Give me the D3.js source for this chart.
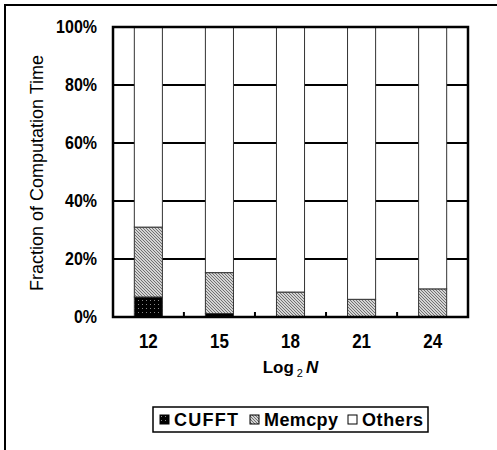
<!DOCTYPE html>
<html>
<head>
<meta charset="utf-8">
<script src="https://cdn.jsdelivr.net/npm/d3@7"></script>
<style>
    body { margin: 0; background: #fff; }
    svg { display: block; }
    text { font-family: "Liberation Sans", Arial, sans-serif; fill: #000; }
</style>
</head>
<body>
<svg id="chart"></svg>
<script>
// values (percent of computation time)
var categories = ["12", "15", "18", "21", "24"];
var cufft = [6.9, 1.2, 0.2, 0.1, 0.1];
var memcpy = [24.1, 14.1, 8.4, 6.0, 9.6];
var others = [69.0, 84.7, 91.4, 93.9, 90.3];
var seriesNames = ["CUFFT", "Memcpy", "Others"];
var yTicks = [0, 20, 40, 60, 80, 100];

var W = 497, H = 450;
var m = { left: 113, right: 29, top: 27, bottom: 133 };
var w = W - m.left - m.right;
var h = H - m.top - m.bottom;

var svg = d3.select("#chart")
    .attr("width", W)
    .attr("height", H);

// patterns for the stacked parts
var defs = svg.append("defs");
var dots = defs.append("pattern")
    .attr("id", "pat-cufft")
    .attr("patternUnits", "userSpaceOnUse")
    .attr("width", 4).attr("height", 4);
dots.append("rect").attr("width", 4).attr("height", 4).attr("fill", "#000");
dots.append("rect").attr("x", 1).attr("y", 1).attr("width", 1).attr("height", 1).attr("fill", "#888");

var hatch = defs.append("pattern")
    .attr("id", "pat-memcpy")
    .attr("patternUnits", "userSpaceOnUse")
    .attr("width", 3).attr("height", 3);
hatch.append("rect").attr("width", 3).attr("height", 3).attr("fill", "#fff");
hatch.append("path")
    .attr("d", "M-1,-1 L4,4 M-1,2 L1,4 M2,-1 L4,1")
    .attr("stroke", "#6a6a6a")
    .attr("stroke-width", 1.1);

var fills = ["url(#pat-cufft)", "url(#pat-memcpy)", "#fff"];

// outer frame (only top and left fall inside the picture)
svg.append("path")
    .attr("d", "M5," + (H + 5) + " V5 H" + (W + 5))
    .attr("fill", "none")
    .attr("stroke", "#000")
    .attr("stroke-width", 2);

var chart = svg.append("g")
    .attr("transform", "translate(" + m.left + "," + m.top + ")");

var x = d3.scaleBand().domain(categories).range([0, w]).paddingInner(0.605).paddingOuter(0.3);
var y = d3.scaleLinear().domain([0, 100]).range([h, 0]);

// gridlines
chart.append("g")
    .selectAll("line")
    .data(yTicks.slice(1, -1))
    .join("line")
    .attr("x1", 0).attr("x2", w)
    .attr("y1", function (d) { return y(d); })
    .attr("y2", function (d) { return y(d); })
    .attr("stroke", "#000")
    .attr("stroke-width", 2);

// stacked bars
var rows = categories.map(function (c, i) {
    return { cat: c, CUFFT: cufft[i], Memcpy: memcpy[i], Others: others[i] };
});
var stack = d3.stack().keys(seriesNames)(rows);

chart.append("g")
    .selectAll("g")
    .data(stack)
    .join("g")
    .attr("fill", function (d, i) { return fills[i]; })
    .selectAll("rect")
    .data(function (d) { return d; })
    .join("rect")
    .attr("x", function (d) { return x(d.data.cat); })
    .attr("width", x.bandwidth())
    .attr("y", function (d) { return y(d[1]); })
    .attr("height", function (d) { return y(d[0]) - y(d[1]); })
    .attr("stroke", "#333")
    .attr("stroke-width", 1);

// small inward ticks between the categories
var step = x.step();
chart.append("g")
    .selectAll("line")
    .data(categories.slice(1))
    .join("line")
    .attr("x1", function (d) { return x(d) - (step - x.bandwidth()) / 2; })
    .attr("x2", function (d) { return x(d) - (step - x.bandwidth()) / 2; })
    .attr("y1", h).attr("y2", h - 5)
    .attr("stroke", "#000")
    .attr("stroke-width", 2);

// plot frame
chart.append("rect")
    .attr("width", w).attr("height", h)
    .attr("fill", "none")
    .attr("stroke", "#000")
    .attr("stroke-width", 2.5);

// y tick labels
chart.append("g")
    .selectAll("text")
    .data(yTicks)
    .join("text")
    .attr("transform", function (d) { return "translate(-16," + y(d) + ") scale(1,1.12)"; })
    .attr("dy", "0.36em")
    .attr("text-anchor", "end")
    .style("font-size", "16px")
    .style("font-weight", "bold")
    .text(function (d) { return d + "%"; });

// x tick labels
chart.append("g")
    .selectAll("text")
    .data(categories)
    .join("text")
    .attr("transform", function (d) { return "translate(" + (x(d) + x.bandwidth() / 2) + "," + (h + 31) + ") scale(1,1.15)"; })
    .attr("text-anchor", "middle")
    .style("font-size", "17px")
    .style("font-weight", "bold")
    .text(function (d) { return d; });

// axis titles
var xt = chart.append("text")
    .attr("x", w / 2)
    .attr("y", h + 56)
    .attr("text-anchor", "middle")
    .style("font-size", "17px")
    .style("font-weight", "bold");
xt.append("tspan").text("Log");
xt.append("tspan").attr("dy", 4).style("font-size", "11px").style("font-weight", "normal").text(" 2 ");
xt.append("tspan").attr("dy", -4).style("font-style", "italic").text("N");

chart.append("text")
    .attr("transform", "translate(" + (-70) + "," + (h / 2 + 1) + ") rotate(-90)")
    .attr("text-anchor", "middle")
    .style("font-size", "18px")
    .text("Fraction of Computation Time");

// legend
var lg = svg.append("g").attr("transform", "translate(153,407)");
lg.append("rect")
    .attr("width", 275).attr("height", 25)
    .attr("fill", "#fff")
    .attr("stroke", "#000")
    .attr("stroke-width", 1.5);
var legendX = [7, 97, 195];
var items = lg.selectAll("g.item")
    .data(seriesNames)
    .join("g")
    .attr("class", "item")
    .attr("transform", function (d, i) { return "translate(" + legendX[i] + ",0)"; });
items.append("rect")
    .attr("y", 8).attr("width", 9).attr("height", 9)
    .attr("fill", function (d, i) { return fills[i]; })
    .attr("stroke", "#000")
    .attr("stroke-width", 1);
items.append("text")
    .attr("x", 14)
    .attr("y", 19)
    .attr("textLength", function (d, i) { return [64, 74, 61][i]; })
    .style("font-size", "18px")
    .style("font-weight", "bold")
    .text(function (d) { return d; });
</script>
</body>
</html>
